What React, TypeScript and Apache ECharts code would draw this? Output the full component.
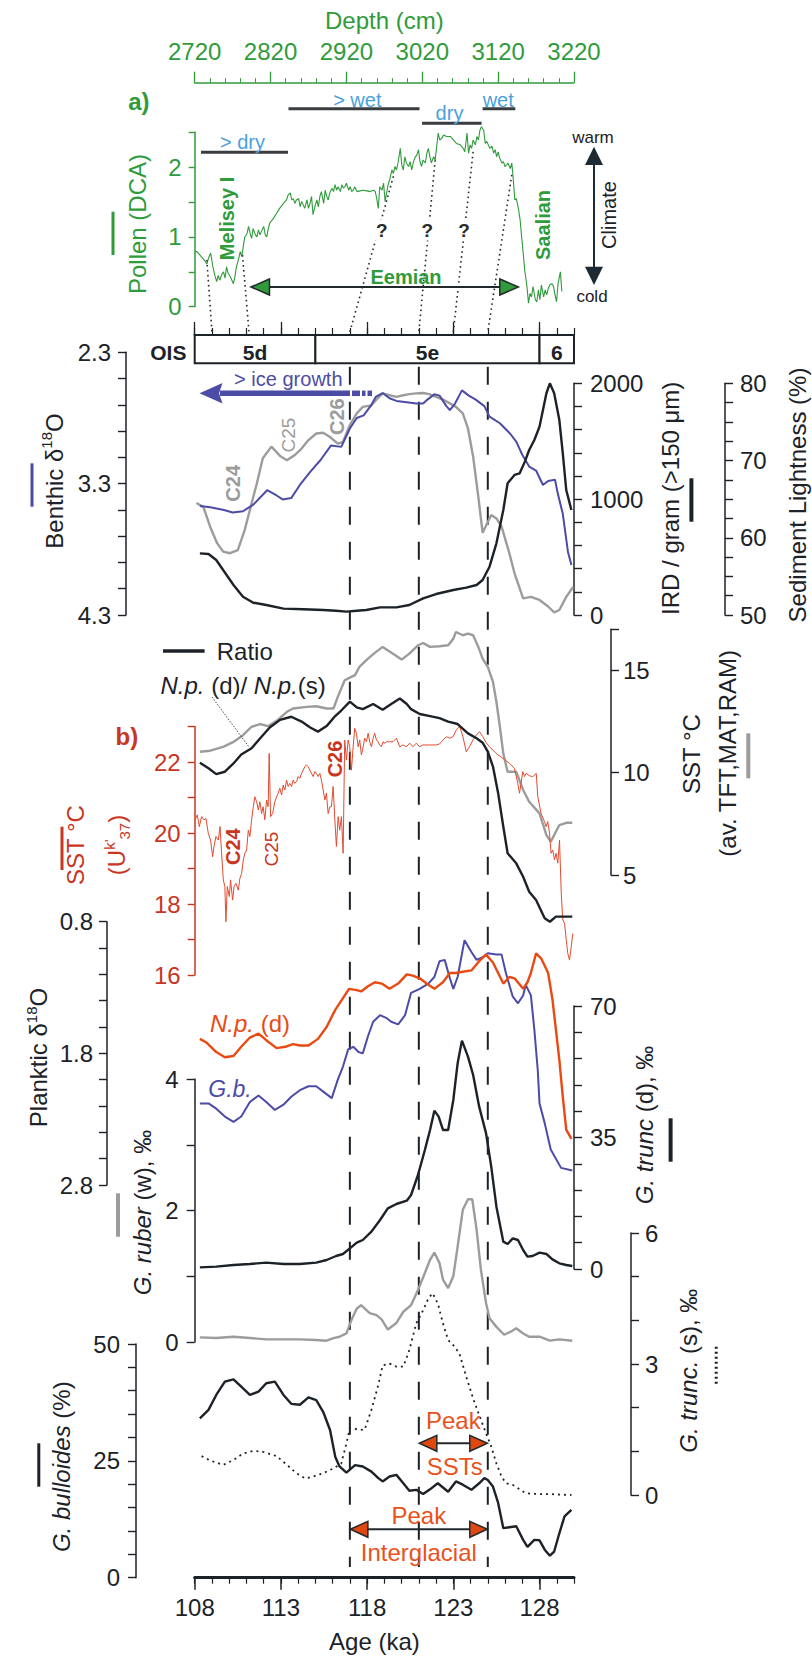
import React, { useEffect, useRef } from "react";
import * as echarts from "echarts";

const FONT = '"Liberation Sans", Arial, Helvetica, sans-serif';
const GREEN = "#2f9b3b";
const BLUE_TXT = "#4ba1de";
const PURPLE = "#4c4ca6";
const GRAY = "#9c9c9c";
const BLACK = "#1c2228";
const RED_TXT = "#c8361f";
const RED_LINE = "#e24b30";
const ORANGE = "#ea4a12";
const PEAK_TXT = "#e8521c";
const HEAD = "#e04810";

// ---------- axes ranges / tick labels ----------
const AGE_MIN = 108;
const AGE_MAX = 130;
const AGE_LABELS = [108, 113, 118, 123, 128];
const DEPTH_MIN = 2720;
const DEPTH_MAX = 3220;

// ---------- annotation data ----------
const OIS_STAGES = [[108, 115], [115, 128], [128, 130]];
const OIS_NAMES = ["5d", "5e", "6"];
const BOUNDARY_AGES = [117, 121, 125];
const TIE_DEPTH = [2736, 2783, 2982, 3037, 3087, 3138];
const TIE_DCA = [0.67, 0.74, 1.87, 2.1, 2.22, 1.89];
const TIE_AGE = [109.0, 111.15, 117, 121, 123, 125];

// ---------- series data ----------
const POLLEN_DCA = [[2720,0.79],[2723,0.79],[2727,0.74],[2734,0.65],[2736,0.61],[2738,0.69],[2741,0.77],[2744,0.57],[2747,0.43],[2749,0.36],[2751,0.45],[2753,0.38],[2756,0.47],[2758,0.50],[2760,0.41],[2762,0.57],[2764,0.48],[2767,0.43],[2769,0.38],[2771,0.33],[2773,0.43],[2775,0.57],[2778,0.69],[2780,0.79],[2782,0.72],[2784,0.86],[2786,1.00],[2789,1.05],[2791,1.15],[2793,1.05],[2795,0.98],[2797,1.12],[2800,1.03],[2802,1.00],[2804,1.10],[2806,1.03],[2808,1.08],[2811,1.15],[2813,1.03],[2815,1.00],[2817,1.12],[2819,1.20],[2824,1.27],[2828,1.34],[2832,1.41],[2837,1.48],[2841,1.53],[2843,1.60],[2846,1.63],[2848,1.53],[2850,1.55],[2852,1.48],[2854,1.53],[2857,1.55],[2859,1.43],[2861,1.51],[2863,1.46],[2865,1.41],[2868,1.53],[2870,1.41],[2872,1.48],[2874,1.58],[2876,1.32],[2879,1.46],[2881,1.53],[2883,1.43],[2885,1.58],[2887,1.65],[2890,1.48],[2892,1.67],[2894,1.58],[2896,1.53],[2898,1.63],[2901,1.70],[2903,1.65],[2905,1.75],[2907,1.67],[2909,1.72],[2912,1.65],[2914,1.75],[2916,1.70],[2918,1.72],[2920,1.77],[2923,1.67],[2925,1.72],[2927,1.65],[2929,1.67],[2931,1.72],[2934,1.65],[2938,1.66],[2942,1.67],[2947,1.66],[2951,1.65],[2956,1.67],[2958,1.65],[2960,1.55],[2962,1.41],[2964,1.72],[2967,1.67],[2969,1.77],[2971,1.51],[2973,1.63],[2975,1.75],[2977,1.82],[2980,1.96],[2982,1.91],[2984,2.01],[2986,1.96],[2988,2.06],[2991,2.27],[2993,2.03],[2995,1.96],[2997,2.15],[2999,2.06],[3002,2.01],[3004,2.08],[3006,1.96],[3008,2.06],[3010,2.13],[3013,2.18],[3015,2.25],[3017,2.08],[3019,2.01],[3021,2.10],[3024,2.06],[3026,2.20],[3028,2.27],[3030,2.15],[3032,2.06],[3035,2.15],[3037,2.10],[3039,2.30],[3041,2.49],[3043,2.39],[3046,2.42],[3048,2.46],[3052,2.44],[3057,2.44],[3061,2.39],[3065,2.34],[3070,2.32],[3074,2.27],[3076,2.22],[3079,2.49],[3081,2.20],[3083,2.32],[3085,2.27],[3087,2.39],[3090,2.32],[3092,2.44],[3094,2.39],[3096,2.53],[3098,2.58],[3101,2.53],[3103,2.34],[3105,2.37],[3107,2.32],[3109,2.27],[3112,2.30],[3114,2.20],[3116,2.25],[3118,2.15],[3120,2.22],[3122,2.13],[3125,2.06],[3127,2.08],[3129,2.01],[3131,2.03],[3133,2.06],[3136,1.98],[3138,2.06],[3140,1.82],[3142,1.53],[3144,1.55],[3147,1.39],[3149,1.24],[3151,1.00],[3153,0.77],[3155,0.53],[3158,0.29],[3160,0.05],[3162,0.19],[3164,0.14],[3166,0.29],[3169,0.10],[3171,0.07],[3173,0.24],[3175,0.10],[3177,0.31],[3180,0.14],[3182,0.24],[3184,0.17],[3186,0.26],[3188,0.31],[3191,0.33],[3193,0.29],[3195,0.17],[3197,0.07],[3199,0.33],[3202,0.50],[3204,0.22]];

const BENTHIC_D18O = [[108.3,3.47],[108.9,3.48],[109.7,3.5],[110.2,3.52],[110.8,3.51],[111.4,3.46],[112.2,3.35],[112.75,3.39],[113.1,3.42],[113.6,3.41],[114.1,3.31],[114.7,3.21],[115.3,3.12],[115.9,3.01],[116.5,3.02],[117.0,2.88],[117.4,2.8],[117.8,2.78],[118.25,2.7],[118.5,2.64],[118.9,2.61],[119.3,2.65],[119.7,2.67],[120.3,2.68],[120.85,2.69],[121.25,2.69],[121.5,2.66],[121.9,2.62],[122.2,2.63],[122.6,2.71],[122.8,2.74],[123.1,2.69],[123.5,2.59],[123.9,2.63],[124.3,2.66],[124.8,2.71],[125.1,2.79],[125.7,2.84],[126.3,2.92],[126.65,2.98],[127.0,3.08],[127.4,3.17],[127.8,3.2],[128.2,3.31],[128.5,3.28],[128.9,3.27],[129.05,3.37],[129.35,3.53],[129.65,3.82],[129.85,3.92]];

const LIGHTNESS = [[108.1,64.5],[108.5,64.0],[108.9,61.4],[109.3,59.3],[109.65,58.2],[110.05,58.0],[110.5,58.4],[110.9,61.0],[111.3,64.45],[111.6,67.0],[111.95,70.3],[112.45,71.8],[112.95,70.6],[113.35,70.05],[113.8,70.7],[114.2,71.55],[114.6,72.65],[115.05,73.5],[115.45,73.6],[115.85,73.05],[116.3,72.2],[116.6,72.4],[117.0,74.6],[117.4,76.1],[117.75,76.95],[118.25,77.15],[118.55,77.9],[118.9,78.7],[119.3,78.45],[119.7,78.25],[120.1,78.45],[120.45,78.6],[120.85,78.7],[121.25,78.75],[121.6,78.6],[122.0,78.25],[122.4,77.9],[122.8,77.4],[123.15,76.95],[123.55,76.1],[123.85,74.15],[124.15,70.5],[124.45,65.3],[124.7,60.65],[125.0,62.05],[125.2,62.95],[125.5,62.5],[125.8,61.45],[126.25,58.0],[126.55,55.4],[127.05,52.15],[127.5,52.35],[128.0,51.95],[128.5,51.1],[128.85,50.35],[129.15,50.65],[129.55,52.35],[129.95,53.65]];

const IRD = [[108.3,532],[108.8,527],[109.25,475],[109.65,388],[110.25,259],[110.8,158],[111.4,106],[112.15,86],[113.15,55],[114.3,49],[115.45,43],[116.2,37],[116.8,29],[117.4,37],[117.95,43],[118.75,66],[119.7,66],[120.45,86],[121.25,144],[122.0,181],[123.0,216],[123.75,236],[124.35,259],[124.7,302],[125.1,417],[125.5,619],[125.9,906],[126.15,1137],[126.55,1209],[126.85,1223],[127.15,1324],[127.4,1424],[127.7,1511],[128.0,1626],[128.2,1770],[128.4,1914],[128.6,2000],[128.85,1914],[129.15,1683],[129.35,1396],[129.55,1079],[129.85,906]];

const SST_TRANSFER = [[108.3,11.02],[108.9,11.07],[109.65,11.26],[110.25,11.5],[110.8,11.83],[111.3,12.24],[111.8,12.37],[112.25,12.27],[112.75,12.53],[113.35,12.97],[113.7,13.13],[114.5,13.21],[115.05,13.24],[115.65,13.13],[116.05,13.13],[116.3,13.7],[116.7,14.51],[117.0,14.64],[117.3,14.76],[117.55,15.16],[118.05,15.57],[118.45,15.85],[118.9,16.14],[119.5,15.81],[120.0,15.52],[120.45,15.81],[120.95,16.22],[121.25,16.33],[121.65,16.14],[122.2,16.17],[122.7,16.22],[123.0,16.54],[123.15,16.87],[123.55,16.71],[123.85,16.79],[124.15,16.71],[124.45,16.14],[124.7,15.57],[125.0,15.16],[125.3,14.43],[125.5,13.46],[125.7,12.24],[125.9,10.93],[126.15,10.04],[126.65,10.04],[127.05,9.15],[127.4,8.58],[128.0,8.01],[128.4,6.95],[128.65,6.63],[128.85,6.95],[129.15,7.44],[129.55,7.55],[129.9,7.55]];

const NP_RATIO = [[108.3,0.614],[108.8,0.598],[109.25,0.581],[109.75,0.588],[110.25,0.612],[110.7,0.638],[111.3,0.656],[111.8,0.685],[112.35,0.716],[112.95,0.738],[113.6,0.747],[114.2,0.733],[114.7,0.716],[115.15,0.704],[115.65,0.72],[116.15,0.749],[116.5,0.765],[117.0,0.791],[117.4,0.774],[117.75,0.769],[118.35,0.784],[118.9,0.767],[119.4,0.784],[119.9,0.8],[120.3,0.784],[120.55,0.769],[121.05,0.755],[121.65,0.749],[122.2,0.743],[122.7,0.733],[123.25,0.726],[123.85,0.699],[124.35,0.685],[124.7,0.672],[125.0,0.646],[125.3,0.603],[125.6,0.526],[125.9,0.429],[126.15,0.352],[126.65,0.323],[127.05,0.284],[127.4,0.241],[127.8,0.217],[128.3,0.164],[128.6,0.154],[128.95,0.169],[129.9,0.169]];

const SST_UK37 = [[108.02,20.37],[108.15,20.51],[108.27,20.18],[108.4,20.46],[108.54,20.37],[108.65,20.41],[108.79,19.99],[108.92,19.8],[109.04,19.33],[109.12,19.62],[109.23,19.9],[109.37,19.8],[109.47,20.18],[109.56,19.43],[109.66,18.68],[109.75,18.49],[109.81,17.5],[109.89,18.49],[110.01,18.21],[110.08,18.68],[110.2,18.11],[110.28,18.49],[110.39,18.58],[110.53,18.39],[110.62,18.72],[110.72,18.86],[110.82,19.24],[110.91,19.43],[111.01,19.52],[111.11,20.08],[111.2,19.9],[111.3,20.37],[111.4,20.74],[111.49,21.02],[111.59,20.88],[111.69,20.65],[111.78,20.88],[111.88,20.55],[111.97,20.74],[112.07,20.37],[112.17,20.93],[112.26,20.74],[112.32,22.24],[112.4,20.46],[112.52,20.55],[112.65,20.88],[112.75,21.02],[112.84,21.12],[112.94,21.26],[113.04,21.07],[113.13,21.35],[113.23,21.21],[113.33,21.49],[113.42,21.31],[113.52,21.4],[113.62,21.31],[113.71,21.49],[113.81,21.4],[113.91,21.45],[114.0,21.59],[114.1,21.54],[114.2,21.68],[114.39,21.87],[114.48,21.92],[114.58,21.87],[114.68,21.77],[114.87,21.59],[114.97,21.73],[115.06,21.68],[115.16,21.59],[115.26,21.68],[115.35,21.49],[115.45,21.21],[115.55,20.93],[115.64,21.12],[115.74,20.55],[115.84,20.74],[115.93,20.74],[116.03,21.31],[116.13,20.37],[116.22,19.62],[116.32,20.46],[116.41,20.08],[116.51,20.46],[116.61,19.43],[116.7,22.62],[116.8,22.06],[116.9,22.62],[116.99,22.43],[117.09,21.77],[117.19,22.43],[117.28,22.95],[117.38,22.81],[117.48,22.43],[117.57,22.62],[117.67,22.2],[117.77,22.43],[117.86,22.67],[117.96,22.57],[118.06,22.81],[118.15,22.57],[118.25,22.43],[118.35,22.67],[118.44,22.81],[118.54,22.62],[118.64,22.57],[118.73,22.48],[118.83,22.43],[118.92,22.57],[119.02,22.53],[119.12,22.57],[119.31,22.57],[119.5,22.57],[119.7,22.67],[119.89,22.43],[120.08,22.48],[120.28,22.43],[120.47,22.53],[120.66,22.43],[120.85,22.53],[121.05,22.43],[121.24,22.48],[121.63,22.48],[122.01,22.48],[122.21,22.51],[122.4,22.62],[122.59,22.71],[122.79,22.67],[122.98,22.71],[123.17,22.9],[123.37,23.0],[123.56,22.71],[123.75,22.29],[123.94,22.43],[124.14,22.62],[124.33,22.76],[124.52,22.85],[124.72,22.71],[124.91,22.54],[125.1,22.43],[125.49,22.24],[125.88,22.1],[126.26,21.96],[126.55,21.82],[126.74,21.4],[126.84,21.12],[127.03,21.73],[127.13,21.59],[127.22,21.68],[127.42,21.61],[127.61,21.59],[127.81,21.68],[127.9,21.02],[128.09,20.55],[128.29,20.32],[128.38,20.18],[128.48,20.32],[128.58,19.99],[128.67,19.43],[128.77,19.52],[128.87,19.24],[128.96,19.43],[129.06,19.15],[129.16,19.8],[129.26,18.3],[129.35,17.55],[129.45,17.46],[129.55,16.99],[129.64,16.61],[129.74,16.42],[129.84,16.8],[129.93,17.17]];

const NP_D_D18O = [[108.3,1.69],[108.7,1.72],[109.25,1.79],[109.75,1.83],[110.25,1.82],[110.7,1.75],[111.2,1.68],[111.7,1.65],[112.15,1.7],[112.75,1.76],[113.25,1.75],[113.7,1.73],[114.1,1.74],[114.6,1.74],[115.15,1.69],[115.65,1.6],[116.15,1.47],[116.6,1.38],[116.95,1.31],[117.4,1.32],[117.65,1.33],[118.05,1.29],[118.45,1.26],[118.85,1.27],[119.3,1.31],[119.8,1.27],[120.3,1.2],[120.65,1.21],[121.05,1.23],[121.45,1.27],[121.9,1.31],[122.4,1.26],[122.8,1.19],[123.15,1.19],[123.55,1.18],[124.05,1.17],[124.5,1.1],[124.9,1.05],[125.3,1.11],[125.6,1.19],[125.9,1.27],[126.25,1.22],[126.55,1.23],[127.05,1.31],[127.3,1.26],[127.5,1.19],[127.8,1.04],[128.1,1.08],[128.5,1.19],[128.75,1.39],[128.95,1.62],[129.15,1.85],[129.35,2.13],[129.55,2.38],[129.85,2.45]];

const GB_D18O = [[108.3,2.18],[108.8,2.18],[109.25,2.22],[109.75,2.28],[110.25,2.32],[110.7,2.28],[111.2,2.17],[111.7,2.12],[112.15,2.17],[112.65,2.23],[113.15,2.19],[113.6,2.13],[114.1,2.08],[114.6,2.05],[115.05,2.05],[115.55,2.1],[115.95,2.14],[116.3,2.0],[116.6,1.9],[116.9,1.77],[117.2,1.75],[117.5,1.79],[117.75,1.8],[118.05,1.67],[118.35,1.56],[118.75,1.51],[119.1,1.53],[119.4,1.56],[119.8,1.58],[120.2,1.51],[120.55,1.34],[121.05,1.31],[121.55,1.27],[121.9,1.22],[122.2,1.1],[122.5,1.09],[122.8,1.23],[123.0,1.31],[123.25,1.22],[123.65,0.94],[124.05,1.03],[124.35,1.09],[124.7,1.07],[125.0,1.04],[125.5,1.05],[125.8,1.05],[126.05,1.19],[126.45,1.37],[126.75,1.42],[127.05,1.36],[127.2,1.28],[127.5,1.36],[127.7,1.62],[127.9,1.93],[128.0,2.18],[128.3,2.33],[128.65,2.53],[129.25,2.67],[129.9,2.69]];

const TRUNC_D = [[108.3,0.44],[109.25,0.62],[110.25,1.06],[111.2,1.33],[112.15,1.69],[113.15,1.33],[114.1,1.33],[115.05,1.69],[115.65,2.4],[116.2,3.46],[116.6,3.99],[117.0,5.5],[117.4,7.01],[117.75,7.72],[118.25,9.94],[118.75,13.04],[119.2,16.15],[119.7,17.3],[120.3,18.19],[120.55,19.7],[120.95,25.02],[121.35,31.68],[121.65,37.0],[121.9,42.15],[122.15,40.55],[122.4,37.0],[122.7,37.0],[123.0,44.99],[123.25,54.75],[123.5,60.78],[123.85,56.52],[124.15,51.64],[124.5,43.21],[124.9,36.11],[125.2,27.24],[125.5,16.59],[125.9,7.28],[126.15,6.65],[126.45,8.16],[126.75,7.72],[127.05,5.06],[127.3,3.28],[127.6,3.46],[128.0,4.35],[128.4,3.99],[128.75,2.57],[129.15,1.51],[129.55,1.06],[129.9,0.8]];

const RUBER_W = [[108.3,0.07],[109.25,0.06],[110.25,0.08],[111.2,0.06],[112.15,0.04],[113.15,0.04],[114.1,0.04],[115.05,0.03],[115.65,0.02],[116.05,0.06],[116.4,0.08],[116.8,0.13],[117.1,0.34],[117.4,0.51],[117.65,0.56],[118.15,0.44],[118.55,0.41],[118.85,0.34],[119.2,0.19],[119.7,0.29],[120.1,0.46],[120.55,0.56],[120.95,0.79],[121.35,1.05],[121.65,1.25],[121.9,1.36],[122.2,1.2],[122.4,0.95],[122.7,0.82],[123.0,1.0],[123.25,1.45],[123.55,2.01],[123.85,2.17],[124.1,2.17],[124.35,1.71],[124.6,1.1],[124.9,0.59],[125.1,0.36],[125.5,0.23],[125.95,0.11],[126.35,0.16],[126.65,0.21],[127.05,0.13],[127.4,0.08],[128.0,0.08],[128.6,0.02],[129.15,0.04],[129.9,0.02]];

const TRUNC_S = [[108.4,0.89],[108.9,0.79],[109.65,0.69],[110.25,0.8],[110.8,0.95],[111.4,1.01],[111.95,0.99],[112.75,0.89],[113.35,0.69],[113.9,0.5],[114.4,0.38],[114.85,0.42],[115.45,0.5],[116.05,0.61],[116.5,0.72],[116.8,1.18],[117.0,1.53],[117.5,1.5],[117.85,1.49],[118.25,1.95],[118.65,2.52],[118.9,2.97],[119.3,3.01],[119.7,2.94],[120.1,2.94],[120.45,3.32],[120.85,3.93],[121.25,4.23],[121.55,4.5],[121.8,4.62],[122.1,4.39],[122.4,3.93],[122.7,3.55],[123.05,3.41],[123.35,3.24],[123.75,2.71],[124.15,2.21],[124.5,1.83],[124.9,1.41],[125.2,1.11],[125.5,0.72],[125.8,0.42],[126.05,0.27],[126.45,0.23],[126.85,0.13],[127.2,0.04],[128.0,0.02],[128.6,0.02],[129.15,0.01],[129.85,0.0]];

const BULLOIDES = [[108.3,34.1],[108.8,35.9],[109.25,39.1],[109.75,41.95],[110.25,42.45],[110.7,40.9],[111.2,39.1],[111.7,39.8],[112.15,41.6],[112.65,41.95],[113.15,39.1],[113.6,37.2],[114.1,37.0],[114.6,38.6],[115.05,38.0],[115.45,35.5],[115.85,31.6],[116.15,25.9],[116.4,23.8],[116.8,22.5],[117.3,24.1],[117.75,23.8],[118.25,22.7],[118.65,21.3],[118.9,20.6],[119.3,21.65],[119.7,22.0],[120.1,20.2],[120.45,18.6],[120.85,18.8],[121.25,17.9],[121.65,18.9],[122.1,20.2],[122.7,18.4],[123.15,20.6],[123.55,19.9],[124.05,18.8],[124.5,20.2],[124.8,21.3],[125.0,20.9],[125.3,19.5],[125.6,16.0],[125.9,10.6],[126.25,10.8],[126.65,11.0],[127.05,8.1],[127.3,6.6],[127.7,8.1],[128.0,8.0],[128.3,6.0],[128.6,4.7],[128.85,5.6],[129.15,9.5],[129.45,13.1],[129.85,14.5]];

// ---------- layout ----------
const GRID_L = 194.7;
const GRID_W = 379.3;
const PANELS = [
  [82.7, 224],     // 0 depth axis
  [132.3, 174.4],  // 1 pollen
  [335, 28.3],     // 2 OIS
  [352.3, 262.7],  // 3 benthic
  [383.3, 231.7],  // 4 IRD
  [383.3, 231.7],  // 5 lightness
  [629.3, 245.7],  // 6 SST transfer
  [629.3, 345.7],  // 7 ratio
  [726.5, 248.5],  // 8 Uk37
  [921.7, 263.3],  // 9 planktic
  [1079, 263],     // 10 ruber
  [1006, 263],     // 11 trunc d
  [1233, 262],     // 12 trunc s
  [1344, 233.7],   // 13 bulloides
  [366.7, 1200.3], // 14 dashed boundaries
];

const showAt = (vals: number[], dec = 0) => (v: number) =>
  vals.some((t) => Math.abs(t - v) < 1e-6) ? v.toFixed(dec) : "";

function yAx(gi: number, o: any) {
  const c = o.color || BLACK;
  return {
    type: "value", gridIndex: gi, position: o.pos, offset: o.offset || 0,
    min: o.min, max: o.max, interval: o.interval, inverse: !!o.inverse,
    axisLine: { show: true, onZero: false, lineStyle: { color: c, width: 1.5 } },
    axisTick: { show: true, length: o.tick || 8, lineStyle: { color: c, width: 1.4 } },
    axisLabel: { show: true, color: c, fontSize: 24, fontFamily: FONT, margin: o.margin || 14, formatter: o.fmt },
    splitLine: { show: false },
  };
}

function buildOption() {
  const grid = PANELS.map(([top, height]) => ({ left: GRID_L, top, width: GRID_W, height }));
  const xAxis: any[] = PANELS.map((_, i) => ({
    type: "value", gridIndex: i, show: false,
    min: i <= 1 ? DEPTH_MIN : AGE_MIN, max: i <= 1 ? DEPTH_MAX : AGE_MAX,
    axisLine: { onZero: false }, splitLine: { show: false },
  }));
  xAxis[0] = {
    ...xAxis[0], show: true, position: "top", interval: 100,
    axisLine: { show: true, onZero: false, lineStyle: { color: GREEN, width: 1.5 } },
    axisTick: { show: true, length: 11, lineStyle: { color: GREEN, width: 1.3 } },
    minorTick: { show: true, splitNumber: 5, length: 4.5, lineStyle: { color: GREEN, width: 1 } },
    axisLabel: { show: true, color: GREEN, fontSize: 24, fontFamily: FONT, margin: 19, formatter: (v: number) => String(v) },
    minorSplitLine: { show: false },
  };
  xAxis[2] = {
    ...xAxis[2], show: true, position: "top", interval: 1,
    axisLine: { show: true, onZero: false, lineStyle: { color: BLACK, width: 2 } },
    axisTick: { show: true, length: 7, lineStyle: { color: BLACK, width: 1.2 } },
    axisLabel: { show: false },
  };
  xAxis[13] = {
    ...xAxis[13], show: true, position: "bottom", interval: 1,
    axisLine: { show: true, onZero: false, lineStyle: { color: BLACK, width: 3 } },
    axisTick: { show: true, length: 6, lineStyle: { color: BLACK, width: 1.2 } },
    axisLabel: { show: false },
  };
  // major ticks (every 5 ka) for OIS top axis and bottom age axis
  xAxis.push({
    type: "value", gridIndex: 2, position: "top", min: AGE_MIN, max: AGE_MAX, interval: 5,
    axisLine: { show: false, onZero: false },
    axisTick: { show: true, length: 13, customValues: AGE_LABELS, lineStyle: { color: BLACK, width: 1.3 } },
    axisLabel: { show: false }, splitLine: { show: false },
  });
  xAxis.push({
    type: "value", gridIndex: 13, position: "bottom", min: AGE_MIN, max: AGE_MAX, interval: 5,
    axisLine: { show: false, onZero: false },
    axisTick: { show: true, length: 12, customValues: AGE_LABELS, lineStyle: { color: BLACK, width: 1.5 } },
    axisLabel: {
      show: true, fontSize: 24, fontFamily: FONT, color: BLACK, margin: 18, customValues: AGE_LABELS,
      formatter: (v: number) => (AGE_LABELS.includes(v) ? String(v) : ""),
    },
    splitLine: { show: false },
  });

  const yAxis: any[] = PANELS.map((_, i) => ({
    type: "value", gridIndex: i, show: false, min: 0, max: 1,
    axisLine: { onZero: false }, splitLine: { show: false },
  }));
  yAxis[1] = yAx(1, { pos: "left", min: 0, max: 2.5, interval: 0.5, color: GREEN, tick: 6, margin: 13, fmt: showAt([0, 1, 2]) });
  yAxis[3] = yAx(3, { pos: "left", offset: 68.7, min: 2.3, max: 4.3, interval: 0.2, inverse: true, margin: 15, fmt: showAt([2.3, 3.3, 4.3], 1) });
  yAxis[4] = yAx(4, { pos: "right", min: 0, max: 2000, interval: 200, margin: 16, fmt: showAt([0, 1000, 2000]) });
  yAxis[5] = yAx(5, { pos: "right", offset: 151, min: 50, max: 80, interval: 2.5, margin: 15, fmt: showAt([50, 60, 70, 80]) });
  yAxis[6] = yAx(6, { pos: "right", offset: 37, min: 5, max: 17, interval: 5, margin: 12, fmt: showAt([5, 10, 15]) });
  yAxis[8] = yAx(8, { pos: "left", min: 16, max: 23, interval: 1, color: RED_TXT, tick: 7, margin: 14, fmt: showAt([16, 18, 20, 22]) });
  yAxis[9] = yAx(9, { pos: "left", offset: 87.7, min: 0.8, max: 2.8, interval: 0.2, inverse: true, margin: 14, fmt: showAt([0.8, 1.8, 2.8], 1) });
  yAxis[10] = yAx(10, { pos: "left", min: 0, max: 4, interval: 1, margin: 16, fmt: showAt([0, 2, 4]) });
  yAxis[11] = yAx(11, { pos: "right", min: 0, max: 70, interval: 7, margin: 16, fmt: showAt([0, 35, 70]) });
  yAxis[12] = yAx(12, { pos: "right", offset: 57, min: 0, max: 6, interval: 1, margin: 14, fmt: showAt([0, 3, 6]) });
  yAxis[13] = yAx(13, { pos: "left", offset: 58.7, min: 0, max: 50, interval: 5, margin: 16, fmt: showAt([0, 25, 50]) });

  const ln = (gi: number, data: number[][], color: string, width: number, type: any = "solid") => ({
    type: "line", xAxisIndex: gi, yAxisIndex: gi, data, showSymbol: false, symbol: "none",
    clip: false, silent: true, z: 5, lineStyle: { color, width, type },
  });

  const series: any[] = [
    {
      type: "custom", xAxisIndex: 14, yAxisIndex: 14, data: BOUNDARY_AGES.map((a) => [a, 0]), z: 1, silent: true, clip: false,
      renderItem: (params: any, api: any) => {
        const t = api.coord([api.value(0), 1]);
        const b = api.coord([api.value(0), 0]);
        return { type: "line", shape: { x1: t[0], y1: t[1], x2: b[0], y2: b[1] }, style: { stroke: BLACK, lineWidth: 2, lineDash: [18, 17] } };
      },
    },
    {
      type: "custom", xAxisIndex: 2, yAxisIndex: 2, data: OIS_STAGES, z: 3, silent: true, clip: false,
      encode: { x: [0, 1] },
      renderItem: (params: any, api: any) => {
        const a = api.coord([api.value(0), 1]);
        const b = api.coord([api.value(1), 0]);
        return {
          type: "group",
          children: [
            { type: "rect", shape: { x: a[0], y: a[1], width: b[0] - a[0], height: b[1] - a[1] }, style: { fill: "#fff", stroke: BLACK, lineWidth: 2 } },
            { type: "text", x: (a[0] + b[0]) / 2, y: (a[1] + b[1]) / 2 + 3, style: { text: OIS_NAMES[params.dataIndex], fontFamily: FONT, fontSize: 21, fontWeight: "bold", fill: BLACK, align: "center", verticalAlign: "middle" } },
          ],
        };
      },
    },
    ln(1, POLLEN_DCA, GREEN, 1.1),
    ln(5, LIGHTNESS, GRAY, 2.4),
    ln(3, BENTHIC_D18O, PURPLE, 2),
    ln(4, IRD, BLACK, 2.4),
    ln(6, SST_TRANSFER, GRAY, 2.4),
    ln(8, SST_UK37, RED_LINE, 1),
    ln(7, NP_RATIO, BLACK, 2.4),
    ln(9, GB_D18O, PURPLE, 2),
    ln(9, NP_D_D18O, ORANGE, 2.4),
    ln(10, RUBER_W, GRAY, 2.4),
    ln(11, TRUNC_D, BLACK, 2.4),
    ln(12, TRUNC_S, BLACK, 1.8, [2, 4]),
    ln(13, BULLOIDES, BLACK, 2.4),
  ];

  return {
    animation: false,
    backgroundColor: "#fff",
    textStyle: { fontFamily: FONT },
    grid, xAxis, yAxis, series,
  };
}

const rich = (color: string, size = 24) => ({
  n: { fontFamily: FONT, fontSize: size, fill: color, color, lineHeight: 30 },
  i: { fontFamily: FONT, fontSize: size, fill: color, color, fontStyle: "italic", lineHeight: 30 },
  b: { fontFamily: FONT, fontSize: size, fill: color, color, fontWeight: "bold", lineHeight: 30 },
  sup: { fontFamily: FONT, fontSize: 15, fill: color, color, lineHeight: 14, verticalAlign: "top" },
  sub: { fontFamily: FONT, fontSize: 15, fill: color, color, lineHeight: 14, verticalAlign: "bottom" },
});

function buildGraphics(chart: any) {
  const px = (i: number, v: number[]) => chart.convertToPixel({ xAxisIndex: i, yAxisIndex: i }, v);
  const g: any[] = [];
  const text = (x: number, y: number, t: string, o: any = {}) =>
    g.push({
      type: "text", x, y, rotation: o.rot ? Math.PI / 2 : 0, z: 100, silent: true,
      style: {
        text: t, fontFamily: FONT, fontSize: o.size || 24, fontWeight: o.bold ? "bold" : "normal",
        fontStyle: o.italic ? "italic" : "normal", fill: o.color || BLACK,
        align: o.align || "center", verticalAlign: "middle", rich: o.rich,
        backgroundColor: o.bg, padding: o.pad,
      },
    });
  const line = (x1: number, y1: number, x2: number, y2: number, color: string, w: number, dash?: number[]) =>
    g.push({ type: "line", z: 60, silent: true, shape: { x1, y1, x2, y2 }, style: { stroke: color, lineWidth: w, lineDash: dash } });
  const poly = (pts: number[][], fill: string, stroke?: string, w = 0) =>
    g.push({ type: "polygon", z: 61, silent: true, shape: { points: pts }, style: { fill, stroke, lineWidth: w } });
  const dblArrowH = (x1: number, x2: number, y: number, fill: string, hl: number, hh: number) => {
    line(x1 + hl - 2, y, x2 - hl + 2, y, "#23282d", 2);
    poly([[x1, y], [x1 + hl, y - hh], [x1 + hl, y + hh]], fill, "#23282d", 1.5);
    poly([[x2, y], [x2 - hl, y - hh], [x2 - hl, y + hh]], fill, "#23282d", 1.5);
  };

  // tie lines pollen depth -> age
  TIE_DEPTH.forEach((d, k) => {
    const a = px(1, [d, TIE_DCA[k]]);
    const b = px(2, [TIE_AGE[k], 1]);
    line(a[0], a[1], b[0], b[1] - 3, "#2a2a2a", 1.6, [1.6, 3.4]);
  });

  // ---- panel a ----
  text(384.3, 20.7, "Depth (cm)", { color: GREEN, size: 24 });
  text(138.8, 101.7, "a)", { color: GREEN, size: 24, bold: true });
  text(357.3, 99.7, "> wet", { color: BLUE_TXT, size: 20 });
  text(449.5, 113, "dry", { color: BLUE_TXT, size: 20 });
  text(498.2, 99.7, "wet", { color: BLUE_TXT, size: 20 });
  text(242.5, 142, "> dry", { color: BLUE_TXT, size: 20 });
  line(288.5, 108.7, 419.5, 108.7, "#3a3d40", 3);
  line(422, 123.3, 481.6, 123.3, "#3a3d40", 3);
  line(482.6, 108.7, 515.3, 108.7, "#3a3d40", 3);
  line(201, 152.3, 288, 152.3, "#3a3d40", 3);
  text(137.2, 224, "Pollen (DCA)", { color: GREEN, size: 24, rot: true });
  line(113, 211.7, 113, 255, GREEN, 3);
  text(226.5, 218.5, "Melisey I", { color: GREEN, size: 20, bold: true, rot: true });
  text(543, 225, "Saalian", { color: GREEN, size: 20, bold: true, rot: true });
  text(406, 277.3, "Eemian", { color: GREEN, size: 20, bold: true });
  dblArrowH(251, 518.3, 287, GREEN, 18.5, 8);
  text(381.7, 230, "?", { color: "#2a2a2a", size: 19, bold: true, bg: "#fff", pad: [1, 1] });
  text(427.3, 230, "?", { color: "#2a2a2a", size: 19, bold: true, bg: "#fff", pad: [1, 1] });
  text(464, 230, "?", { color: "#2a2a2a", size: 19, bold: true, bg: "#fff", pad: [1, 1] });
  // climate arrow
  line(594, 162, 594, 270, "#1e2a33", 2);
  poly([[594, 146.7], [585, 165], [603, 165]], "#1e2a33");
  poly([[594, 285], [585, 266.7], [603, 266.7]], "#1e2a33");
  text(593, 137, "warm", { size: 17 });
  text(592, 296.7, "cold", { size: 17 });
  text(608.5, 215, "Climate", { size: 20, rot: true });

  // ---- benthic panel ----
  text(168.3, 352.5, "OIS", { size: 21, bold: true });
  text(54.4, 481, "{n|Benthic δ}{sup|18}{n|O}", { rot: true, rich: rich(BLACK) });
  line(32, 463.3, 32, 506.7, PURPLE, 3);
  text(288.3, 379.3, "> ice growth", { color: PURPLE, size: 20 });
  line(220, 393.3, 350, 393.3, PURPLE, 5.5);
  line(352, 393.3, 360, 393.3, PURPLE, 5.5);
  line(362, 393.3, 365.5, 393.3, PURPLE, 5.5);
  line(367.5, 393.3, 372, 393.3, PURPLE, 5.5);
  poly([[199.5, 393.3], [222.5, 383], [219, 393.3], [222.5, 403.6]], PURPLE);
  text(233.3, 483.3, "C24", { color: GRAY, size: 20, bold: true, rot: true });
  text(288.3, 435, "C25", { color: GRAY, size: 19, rot: true });
  text(336.7, 416.7, "C26", { color: GRAY, size: 20, bold: true, rot: true });
  text(670.6, 498.3, "IRD / gram (>150 μm)", { rot: true, size: 24 });
  line(691.4, 478.3, 691.4, 521.7, BLACK, 4);
  text(797, 495, "Sediment Lightness (%)", { rot: true, size: 24 });

  // ---- SST panel ----
  line(163, 651, 204.6, 651, BLACK, 3.5);
  text(216.7, 651, "Ratio", { align: "left", size: 24 });
  text(160.5, 685, "{i|N.p.}{n| (d)/ }{i|N.p.}{n|(s)}", { align: "left", rich: rich(BLACK) });
  line(212, 697, 249, 747, "#333", 0.9, [1.5, 1.5]);
  text(126.9, 736.7, "b)", { color: RED_TXT, size: 24, bold: true });
  text(75.1, 845, "SST °C", { color: RED_TXT, size: 24, rot: true });
  text(116.5, 845, "{n|(U}{sup|k'}{sub|37}{n|)}", { rot: true, rich: rich(RED_TXT) });
  line(62, 826.7, 62, 870, RED_TXT, 3);
  text(233.3, 846.7, "C24", { color: RED_TXT, size: 20, bold: true, rot: true });
  text(271.7, 849, "C25", { color: RED_TXT, size: 19, rot: true });
  text(335, 759, "C26", { color: RED_TXT, size: 20, bold: true, rot: true });
  text(691.3, 754, "SST °C", { size: 24, rot: true });
  text(727.6, 753.3, "(av. TFT,MAT,RAM)", { size: 24, rot: true });
  line(748.3, 733.3, 748.3, 778.3, GRAY, 4);

  // ---- planktic panel ----
  text(38.8, 1057.5, "{n|Planktic δ}{sup|18}{n|O}", { rot: true, rich: rich(BLACK) });
  text(210, 1023, "{i|N.p.}{n| (d)}", { align: "left", rich: rich(ORANGE) });
  text(208.3, 1089, "G.b.", { align: "left", color: PURPLE, size: 23, italic: true });

  // ---- ruber / trunc panels ----
  text(142.4, 1212.5, "{i|G. ruber}{n| (w), ‰}", { rot: true, rich: rich(BLACK) });
  line(118, 1193.3, 118, 1236.7, GRAY, 4);
  text(644.7, 1125, "{i|G. trunc}{n| (d), ‰}", { rot: true, rich: rich(BLACK) });
  line(670.6, 1118.3, 670.6, 1161.7, BLACK, 4);
  text(688.8, 1370.7, "{i|G. trunc.}{n| (s), ‰}", { rot: true, rich: rich(BLACK) });
  line(716.2, 1346.7, 716.2, 1386.7, BLACK, 3, [2, 3]);
  text(61.1, 1466.7, "{i|G. bulloides}{n| (%)}", { rot: true, rich: rich(BLACK) });
  line(38.8, 1443.3, 38.8, 1486.7, BLACK, 3);

  // ---- peak annotations ----
  const x117 = px(13, [117, 0])[0];
  const x121 = px(13, [121, 0])[0];
  const x125 = px(13, [125, 0])[0];
  text((x121 + x125) / 2, 1420, "Peak", { color: PEAK_TXT, size: 24 });
  text((x121 + x125) / 2 + 1.5, 1466.7, "SSTs", { color: PEAK_TXT, size: 24 });
  dblArrowH(x121 + 0.5, x125 - 0.5, 1443.3, HEAD, 17.5, 8);
  text((x117 + x125) / 2, 1515, "Peak", { color: PEAK_TXT, size: 24 });
  text((x117 + x125) / 2, 1552, "Interglacial", { color: PEAK_TXT, size: 24 });
  dblArrowH(x117 + 0.5, x125 - 0.5, 1529.3, HEAD, 17.5, 8);

  text(374.4, 1641.7, "Age (ka)", { size: 24 });
  return g;
}

export default function App() {
  const ref = useRef<HTMLDivElement>(null);
  useEffect(() => {
    const el = ref.current as HTMLDivElement;
    const chart = echarts.init(el, undefined, { renderer: "svg" });
    chart.setOption(buildOption() as any);
    chart.setOption({ graphic: { elements: buildGraphics(chart) } } as any);
    return () => chart.dispose();
  }, []);
  return (
    <div
      ref={ref}
      style={{ position: "absolute", left: 0, top: 0, width: 812, height: 1657, background: "#fff" }}
    />
  );
}
